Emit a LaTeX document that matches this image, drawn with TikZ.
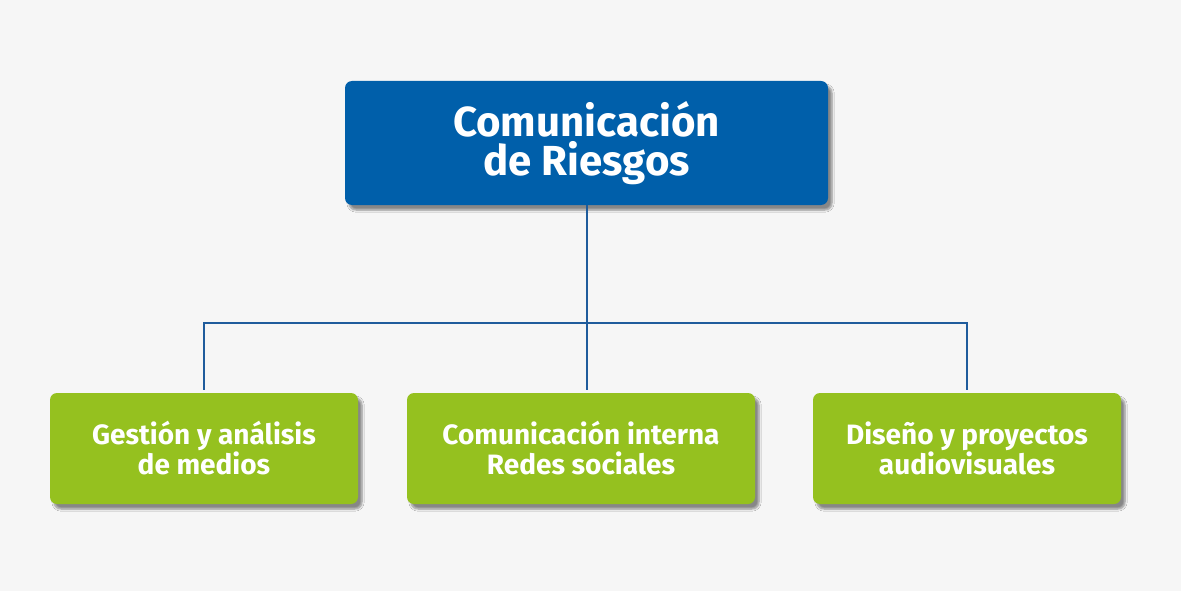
\documentclass[tikz,border=0pt]{standalone}
\usepackage{fontspec}
\setmainfont{Fira Sans}
\usetikzlibrary{shadows.blur}
\definecolor{bgcol}{HTML}{F6F6F6}
\definecolor{blueb}{HTML}{005FAA}
\definecolor{greenb}{HTML}{95C11F}
\definecolor{linec}{HTML}{1F5C9C}
\begin{document}
\begin{tikzpicture}[x=1pt,y=-1pt,
  box/.style={rounded corners=7pt,text=white,align=center,inner sep=0pt,
    blur shadow={shadow xshift=4pt,shadow yshift=-5pt,shadow blur steps=6,shadow opacity=45}},
  topbox/.style={box,fill=blueb,minimum width=483pt,minimum height=124pt,
    font=\fontsize{42}{39}\selectfont\bfseries},
  subbox/.style={box,fill=greenb,minimum height=111pt,
    font=\fontsize{28}{30}\selectfont\bfseries},
  link/.style={draw=linec,line width=2pt}]
 \fill [bgcol] (0,0) rectangle (1181,591);
 \useasboundingbox (0,0) rectangle (1181,591);
 \node [topbox] (riesgos) at (586.5,143) {Comunicación\\de Riesgos};
 \node [subbox,minimum width=308pt] (medios) at (204,448.5) {Gestión y análisis\\de medios};
 \node [subbox,minimum width=348pt] (redes) at (581,448.5) {Comunicación interna\\Redes sociales};
 \node [subbox,minimum width=308pt] (diseno) at (967,448.5) {Diseño y proyectos\\audiovisuales};
 \coordinate (bus) at (riesgos.south |- 0,323);
 \draw [link] (riesgos.south) -- ([yshift=3pt] riesgos.south |- redes.north);
 \draw [link] ([yshift=3pt] medios.north) |- (bus) -| ([yshift=3pt] diseno.north);
\end{tikzpicture}
\end{document}
